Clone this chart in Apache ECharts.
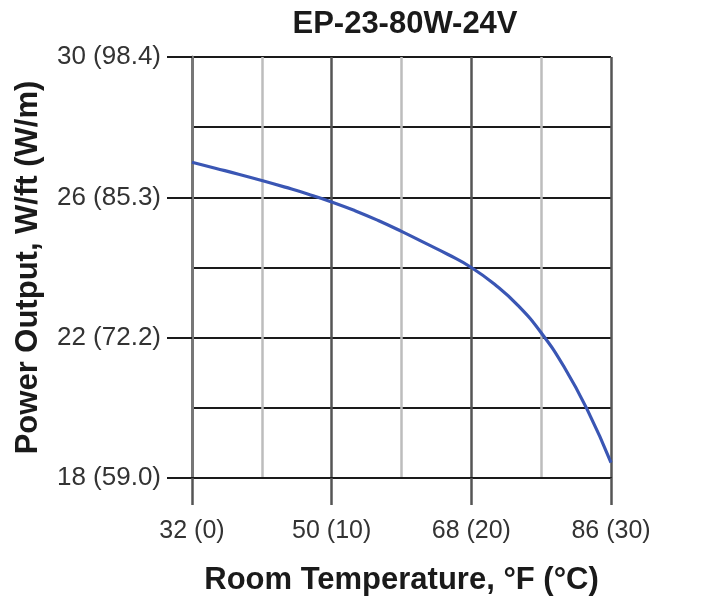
<!DOCTYPE html>
<html>
<head>
<meta charset="utf-8">
<script src="https://cdn.jsdelivr.net/npm/echarts@6/dist/echarts.min.js"></script>
<style>
  html, body { margin: 0; padding: 0; background: #fff; }
  #chart { width: 728px; height: 601px; }
</style>
</head>
<body>
<div id="chart"></div>
<script>
// ---- data ----
const chartTitle = 'EP-23-80W-24V';
const xAxisName = 'Room Temperature, °F (°C)';
const yAxisName = 'Power Output, W/ft (W/m)';

const tempF = [32, 35, 38, 41, 44, 47, 50, 53, 56, 59, 62, 65, 68, 71, 74, 77, 80, 83, 86];
const power = [27.0, 26.83, 26.66, 26.48, 26.29, 26.09, 25.87, 25.62, 25.34, 25.03, 24.70, 24.37, 24.0, 23.52, 22.92, 22.14, 21.15, 19.92, 18.44];

const xTickValues = [32, 50, 68, 86];
const xTickLabels = ['32 (0)', '50 (10)', '68 (20)', '86 (30)'];
const yTickValues = [18, 22, 26, 30];
const yTickLabels = ['18 (59.0)', '22 (72.2)', '26 (85.3)', '30 (98.4)'];

// ---- chart ----
const FONT = "'Liberation Sans', Arial, sans-serif";
const chart = echarts.init(document.getElementById('chart'), null, { renderer: 'canvas' });

chart.setOption({
  animation: false,
  backgroundColor: '#ffffff',
  title: {
    text: chartTitle,
    left: 400,
    textAlign: 'center',
    top: 4,
    textStyle: { fontFamily: FONT, fontSize: 31, fontWeight: 'bold', color: '#1a1a1a' }
  },
  grid: { left: 192, right: 117, top: 57, bottom: 123, containLabel: false },
  xAxis: {
    type: 'value',
    min: 32, max: 86, interval: 18,
    name: xAxisName,
    nameLocation: 'middle',
    nameGap: 87,
    nameTextStyle: { fontFamily: FONT, fontSize: 31, fontWeight: 'bold', color: '#1a1a1a' },
    axisLine: { show: true, onZero: false, lineStyle: { color: '#1a1a1a', width: 2 } },
    axisTick: { show: true, length: 27, lineStyle: { color: '#555', width: 2.5 } },
    axisLabel: {
      margin: 41,
      fontFamily: FONT, fontSize: 25, color: '#333',
      formatter: v => { const i = xTickValues.indexOf(v); return i >= 0 ? xTickLabels[i] : ''; }
    },
    splitLine: { show: true, lineStyle: { color: '#555', width: 2.5 } },
    minorTick: { show: false, splitNumber: 2 },
    minorSplitLine: { show: true, lineStyle: { color: '#bdbdbd', width: 2.5 } }
  },
  yAxis: {
    type: 'value',
    min: 18, max: 30, interval: 4,
    name: yAxisName,
    nameLocation: 'middle',
    nameGap: 148,
    nameTextStyle: { fontFamily: FONT, fontSize: 31, fontWeight: 'bold', color: '#1a1a1a' },
    axisLine: { show: true, onZero: false, lineStyle: { color: '#777', width: 3 } },
    axisTick: { show: true, length: 25, lineStyle: { color: '#1a1a1a', width: 2 } },
    axisLabel: {
      margin: 31,
      fontFamily: FONT, fontSize: 26, color: '#333',
      formatter: v => { const i = yTickValues.indexOf(v); return i >= 0 ? yTickLabels[i] : ''; }
    },
    splitLine: { show: true, lineStyle: { color: '#1a1a1a', width: 2 } },
    minorTick: { show: false, splitNumber: 2 },
    minorSplitLine: { show: true, lineStyle: { color: '#1a1a1a', width: 2 } }
  },
  series: [{
    type: 'line',
    data: tempF.map((x, i) => [x, power[i]]),
    smooth: 0.5,
    showSymbol: false,
    symbol: 'none',
    lineStyle: { color: '#3a56b4', width: 3.2 },
    z: 5
  }]
});
</script>
</body>
</html>
